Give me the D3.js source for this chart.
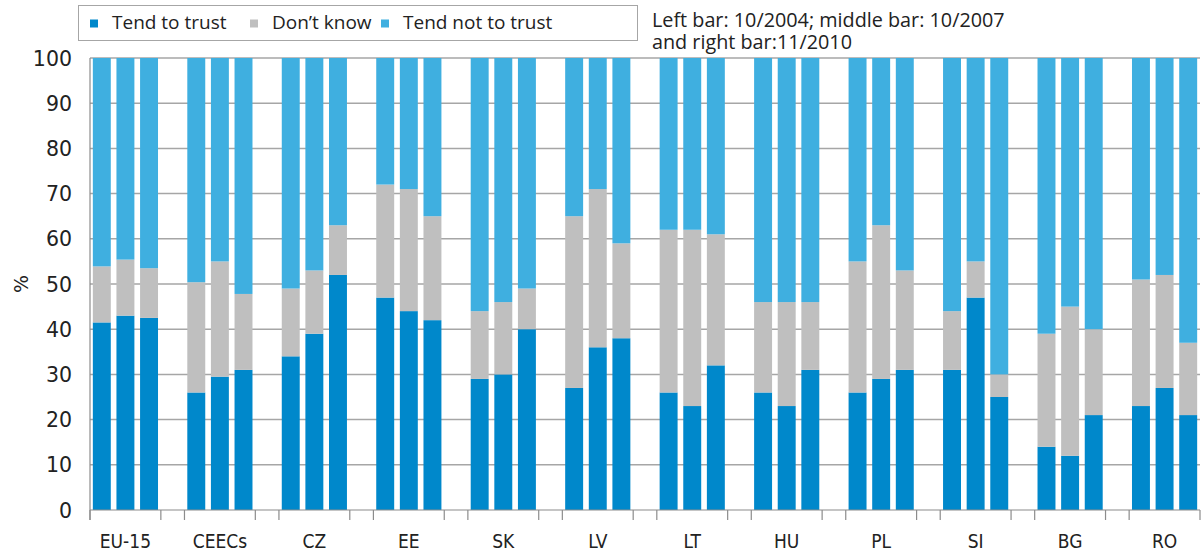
<!DOCTYPE html>
<html><head><meta charset="utf-8">
<script src="https://cdn.jsdelivr.net/npm/d3@7"></script>
<style>
body{margin:0;background:#fff;}
svg text{fill:#222;}
</style></head>
<body>
<svg id="chart" width="1202" height="556"></svg>
<script>
const categories = ["EU-15","CEECs","CZ","EE","SK","LV","LT","HU","PL","SI","BG","RO"];
const periods = ["10/2004","10/2007","11/2010"];
const seriesNames = ["Tend to trust","Don\u2019t know","Tend not to trust"];
const trust = [[41.5,43,42.5],[26,29.5,31],[34,39,52],[47,44,42],[29,30,40],[27,36,38],[26,23,32],[26,23,31],[26,29,31],[31,47,25],[14,12,21],[23,27,21]];
const dontKnow = [[12.4,12.4,11],[24.4,25.5,16.8],[15,14,11],[25,27,23],[15,16,9],[38,35,21],[36,39,29],[20,23,15],[29,34,22],[13,8,5],[25,33,19],[28,25,16]];
const notTrust = [[46.1,44.6,46.5],[49.6,45,52.2],[51,47,37],[28,29,35],[56,54,51],[35,29,41],[38,38,39],[54,54,54],[45,37,47],[56,45,70],[61,55,60],[49,48,63]];
const yTicks = [0,10,20,30,40,50,60,70,80,90,100];
const colors = ["#0088cb","#bfbfbf","#3fafe0"];

(function(){
const svg = d3.select("#chart");
const mL = 90, mR = 1200, mT = 58, mB = 510;
const nSlots = categories.length*4 - 1;
const x = d3.scaleBand().domain(d3.range(nSlots)).range([mL,mR]).padding(0);
const y = d3.scaleLinear().domain([0,100]).range([mB,mT]);
const barW = x.bandwidth()*0.76;

// gridlines
svg.append("g").selectAll("line").data(yTicks.filter(d=>d>0)).join("line")
  .attr("x1",mL).attr("x2",mR).attr("y1",d=>y(d)).attr("y2",d=>y(d))
  .attr("stroke","#a6a6a6").attr("stroke-width",1.5);

// build rows
const rows = [];
categories.forEach((c,gi)=>{
  periods.forEach((p,pi)=>{
    rows.push({cat:c, slot:gi*4+pi, vals:[trust[gi][pi], dontKnow[gi][pi], notTrust[gi][pi]]});
  });
});
const stack = d3.stack().keys([0,1,2]).value((d,k)=>d.vals[k]);
const stacked = stack(rows);
svg.append("g").selectAll("g").data(stacked).join("g")
  .attr("fill",(d,i)=>colors[i])
  .selectAll("rect").data(d=>d).join("rect")
  .attr("x",d=>x(d.data.slot)+(x.bandwidth()-barW)/2)
  .attr("width",barW)
  .attr("y",d=>y(d[1]))
  .attr("height",d=>y(d[0])-y(d[1]));

// axes lines
svg.append("line").attr("x1",mL).attr("x2",mL).attr("y1",mT).attr("y2",mB+10).attr("stroke","#8c8c8c").attr("stroke-width",1.2);
svg.append("line").attr("x1",mL).attr("x2",mR).attr("y1",mB).attr("y2",mB).attr("stroke","#8c8c8c").attr("stroke-width",1.2);

// group ticks
const tickXs = [];
categories.forEach((c,gi)=>{ tickXs.push(x(gi*4)); tickXs.push(x(gi*4)+3*x.step()); });
svg.append("g").selectAll("line").data(tickXs).join("line")
  .attr("x1",d=>d).attr("x2",d=>d).attr("y1",mB).attr("y2",mB+10)
  .attr("stroke","#8c8c8c").attr("stroke-width",1.2);

// category labels
svg.append("g").selectAll("text").data(categories).join("text")
  .attr("x",(d,i)=>x(i*4)+1.5*x.step()).attr("y",548)
  .attr("text-anchor","middle")
  .style("font-family","'Liberation Sans Narrow','DejaVu Sans Condensed',sans-serif")
  .style("font-size","19px").text(d=>d);

// y labels
svg.append("g").selectAll("text").data(yTicks).join("text")
  .attr("x",72).attr("y",d=>y(d)+7.5).attr("text-anchor","end")
  .style("font-family","'DejaVu Sans',sans-serif").style("font-size","20.5px").text(d=>d);
svg.append("text").attr("transform","translate(28,284) rotate(-90)").attr("text-anchor","middle")
  .style("font-family","'DejaVu Sans',sans-serif").style("font-size","19px").text("%");

// legend
svg.append("rect").attr("x",78.5).attr("y",5.5).attr("width",559).attr("height",35)
  .attr("fill","#fff").attr("stroke","#a6a6a6").attr("stroke-width",1);
const legX = [90,250,381];
const lg = svg.append("g").selectAll("g").data(seriesNames).join("g")
  .attr("transform",(d,i)=>`translate(${legX[i]},0)`);
lg.append("rect").attr("x",0).attr("y",19.5).attr("width",8).attr("height",8).attr("fill",(d,i)=>colors[i]);
lg.append("text").attr("x",22).attr("y",28.5).style("font-family","'Open Sans',sans-serif").style("font-size","19px").text(d=>d);

svg.append("text").attr("x",652).attr("y",27).style("font-family","'Open Sans',sans-serif").style("font-size","19.8px")
  .text("Left bar: "+periods[0]+"; middle bar: "+periods[1]);
svg.append("text").attr("x",652).attr("y",49).style("font-family","'Open Sans',sans-serif").style("font-size","19.8px")
  .text("and right bar:"+periods[2]);
})();
</script>
</body></html>
